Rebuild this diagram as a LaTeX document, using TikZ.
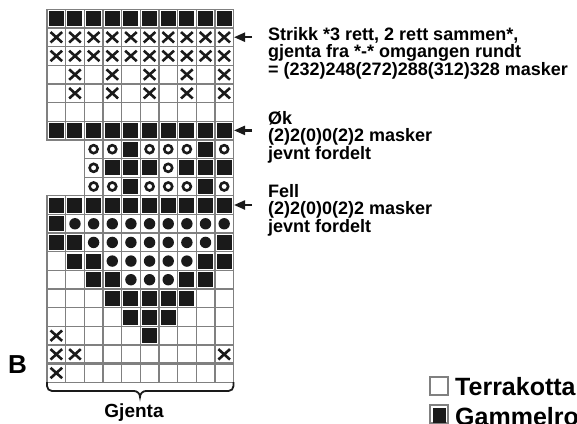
\documentclass[tikz,border=0pt]{standalone}
\usepackage{fontspec}
\setmainfont{Liberation Sans}
\usetikzlibrary{arrows.meta, positioning}
\definecolor{chartink}{HTML}{1A1A1A}
\definecolor{chartgray}{HTML}{808080}
\tikzset{
  cellE/.pic={\draw[chartgray, line width=1.3pt] (-9.325,-9.325) rectangle (9.325,9.325);},
  cellB/.pic={\draw[chartgray, line width=1.3pt] (-9.325,-9.325) rectangle (9.325,9.325);
    \fill[chartink] (-7.5,-7.5) rectangle (7.5,7.5);},
  cellX/.pic={\draw[chartgray, line width=1.3pt] (-9.325,-9.325) rectangle (9.325,9.325);
    \draw[chartink, line width=2.6pt] (-5.8,-5.2) -- (5.8,5.2) (-5.8,5.2) -- (5.8,-5.2);},
  cellO/.pic={\draw[chartgray, line width=1.3pt] (-9.325,-9.325) rectangle (9.325,9.325);
    \draw[chartink, line width=2.6pt] (0,0) circle (4pt);},
  cellD/.pic={\draw[chartgray, line width=1.3pt] (-9.325,-9.325) rectangle (9.325,9.325);
    \fill[chartink] (0,0) circle (5.7pt);},
  cellN/.pic={}
}
\begin{document}
\begin{tikzpicture}[x=1pt, y=-1pt,
  note/.style={anchor=base west, align=left, inner sep=0pt, font=\bfseries\fontsize{18}{17.5}\selectfont},
  pointer/.style={-{Triangle[length=11pt,width=9pt]}, line width=2.2pt, chartink},
  legendbox/.style={draw=chartgray, line width=1.2pt, fill=white},
  legendtext/.style={anchor=base west, inner sep=0pt, font=\bfseries\fontsize{25}{28}\selectfont}]
  \useasboundingbox (0,0) rectangle (577,423);
  \foreach \row [count=\r] in {
    {B,B,B,B,B,B,B,B,B,B},
    {X,X,X,X,X,X,X,X,X,X},
    {X,X,X,X,X,X,X,X,X,X},
    {E,X,E,X,E,X,E,X,E,X},
    {E,X,E,X,E,X,E,X,E,X},
    {E,E,E,E,E,E,E,E,E,E},
    {B,B,B,B,B,B,B,B,B,B},
    {N,N,O,O,B,O,O,O,B,O},
    {N,N,O,B,B,B,O,B,B,B},
    {N,N,O,O,B,O,O,O,B,O},
    {B,B,B,B,B,B,B,B,B,B},
    {B,D,D,D,D,D,D,D,D,D},
    {B,B,D,D,D,D,D,D,D,B},
    {E,B,B,D,D,D,D,D,B,B},
    {E,E,B,B,D,D,D,B,B,E},
    {E,E,E,B,B,B,B,B,E,E},
    {E,E,E,E,B,B,B,E,E,E},
    {X,E,E,E,E,B,E,E,E,E},
    {X,X,E,E,E,E,E,E,E,X},
    {X,E,E,E,E,E,E,E,E,E}}{
    \foreach \c [count=\k] in \row
      \pic at ({47+(\k-0.5)*18.65},{9.3+(\r-0.5)*18.65}) {cell\c};
  }
  \draw[chartgray, line width=2.6pt] (47,363.65) -- (233.5,363.65);

  \node[note] (strikk) at (268,75) {Strikk *3 rett, 2 rett sammen*,\\gjenta fra *-* omgangen rundt\\= (232)248(272)288(312)328 masker};
  \node[note] (ok) at (268,159) {Øk\\(2)2(0)0(2)2 masker\\jevnt fordelt};
  \node[note] (fell) at (268,232) {Fell\\(2)2(0)0(2)2 masker\\jevnt fordelt};

  \coordinate (rowA) at (234,37.2);
  \coordinate (tailA) at (252,37.2);
  \coordinate (rowB) at (234,130.4);
  \coordinate (tailB) at (252,130.4);
  \coordinate (rowC) at (234,205);
  \coordinate (tailC) at (252,205);
  \draw[pointer] (tailA) -- (rowA);
  \draw[pointer] (tailB) -- (rowB);
  \draw[pointer] (tailC) -- (rowC);

  \draw[chartink, line width=1.8pt] (47,382) -- (47,386) to[out=-90,in=180] (52,391) -- (134,391)
    to[out=0,in=90] (140,397) to[out=90,in=180] (146,391) -- (228.5,391) to[out=0,in=-90] (233.5,386) -- (233.5,382);
  \node[anchor=base, inner sep=0pt, font=\bfseries\fontsize{19}{21}\selectfont] (gjenta) at (134,417) {Gjenta};
  \node[anchor=base, inner sep=0pt, font=\bfseries\fontsize{26}{28}\selectfont] (part) at (17.5,373) {B};

  \draw[legendbox] (430,377) rectangle (448,395);
  \draw[legendbox] (430,405) rectangle (448,423);
  \fill[chartink] (432.5,407.5) rectangle (445.5,423);
  \node[legendtext] (terra) at (455,395) {Terrakotta};
  \node[legendtext] (gammel) at (455,425) {Gammelrosa};
\end{tikzpicture}
\end{document}
